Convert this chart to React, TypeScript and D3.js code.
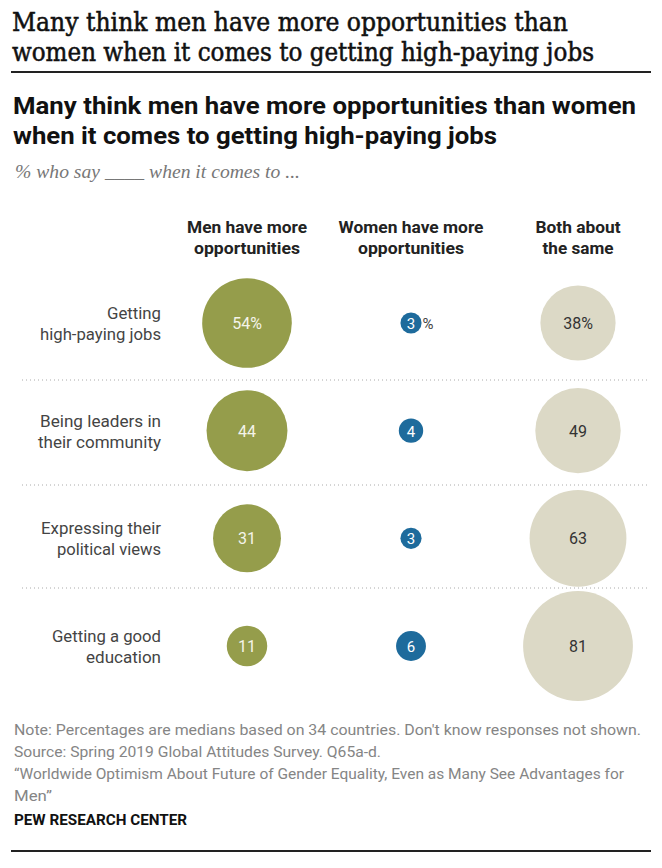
import React from "react";
import * as d3 from "d3";

const categories = [
  ["Getting", "high-paying jobs"],
  ["Being leaders in", "their community"],
  ["Expressing their", "political views"],
  ["Getting a good", "education"],
];
const seriesNames = [
  ["Men have more", "opportunities"],
  ["Women have more", "opportunities"],
  ["Both about", "the same"],
];
const menValues = [54, 44, 31, 11];
const womenValues = [3, 4, 3, 6];
const bothValues = [38, 49, 63, 81];

const colors = ["#959d4b", "#1e6b9c", "#dcd9c6"];
const textColors = ["#f4f4ea", "#ffffff", "#333333"];

const noteLines = [
  "Note: Percentages are medians based on 34 countries. Don't know responses not shown.",
  "Source: Spring 2019 Global Attitudes Survey. Q65a-d.",
  "\u201cWorldwide Optimism About Future of Gender Equality, Even as Many See Advantages for",
  "Men\u201d",
];
const noteWidths = [627, 367, 610, 38];
const headerWidths = [
  [120, 106],
  [145, 106],
  [85, 71],
];
const labelWidths = [
  [54, 121],
  [121, 123],
  [120, 104],
  [109, 75],
];

export default function App() {
  const W = 662;
  const H = 868;
  const series = [menValues, womenValues, bothValues];
  const xc = d3.scaleOrdinal<number, number>().domain([0, 1, 2]).range([247, 411, 578]);
  const y = d3.scaleLinear().domain([0, 3]).range([323, 646]);
  const r = d3.scaleSqrt().domain([0, 100]).range([0, 61]);
  const sepY = [380, 485, 588];
  const sans = "Roboto, 'Liberation Sans', Arial, sans-serif";
  const serif = "'DejaVu Serif', 'Liberation Serif', serif";
  const serif2 = "'Liberation Serif', 'DejaVu Serif', serif";

  return (
    <svg
      width={W}
      height={H}
      style={{ position: "absolute", left: 0, top: 0, background: "#fff" }}
    >
      {/* Page title */}
      <text x={12} y={31} fontFamily={serif} fontSize={26} fill="#111" stroke="#111" strokeWidth={0.55} textLength={556} lengthAdjust="spacingAndGlyphs">
        Many think men have more opportunities than
      </text>
      <text x={12} y={61} fontFamily={serif} fontSize={26} fill="#111" stroke="#111" strokeWidth={0.55} textLength={582} lengthAdjust="spacingAndGlyphs">
        women when it comes to getting high-paying jobs
      </text>
      <line x1={11} x2={651} y1={72} y2={72} stroke="#222" strokeWidth={2} />

      {/* Chart title */}
      <text x={13} y={114} fontFamily={sans} fontWeight={700} fontSize={23} fill="#111" textLength={623} lengthAdjust="spacingAndGlyphs">
        Many think men have more opportunities than women
      </text>
      <text x={13} y={144} fontFamily={sans} fontWeight={700} fontSize={23} fill="#111" textLength={484} lengthAdjust="spacingAndGlyphs">
        when it comes to getting high-paying jobs
      </text>
      <text x={15} y={178} fontFamily={serif2} fontStyle="italic" fontSize={19} fill="#777" textLength={285} lengthAdjust="spacingAndGlyphs">
        % who say ____ when it comes to ...
      </text>

      {/* Column headers */}
      {seriesNames.map((lines, i) => (
        <g key={i}>
          {lines.map((t, j) => (
            <text key={j} x={xc(i)} y={233 + j * 21} textAnchor="middle" fontFamily={sans} fontWeight={700} fontSize={17} fill="#222" textLength={headerWidths[i][j]} lengthAdjust="spacingAndGlyphs">
              {t}
            </text>
          ))}
        </g>
      ))}

      {/* separators */}
      {sepY.map((sy, i) => (
        <line key={i} x1={22} x2={648} y1={sy} y2={sy} stroke="#aaa" strokeWidth={1} strokeDasharray="1,3" />
      ))}

      {/* row labels */}
      {categories.map((lines, i) => (
        <g key={i}>
          {lines.map((t, j) => (
            <text key={j} x={161} y={y(i) - 4 + j * 21} textAnchor="end" fontFamily={sans} fontSize={16} fill="#444" textLength={labelWidths[i][j]} lengthAdjust="spacingAndGlyphs">
              {t}
            </text>
          ))}
        </g>
      ))}

      {/* bubbles */}
      {series.map((vals, si) => (
        <g key={si}>
          {vals.map((v, i) => (
            <g key={i}>
              <circle cx={xc(si)} cy={y(i)} r={r(v)} fill={colors[si]} />
              <text
                x={xc(si)}
                y={y(i) + 6}
                textAnchor="middle"
                fontFamily={sans}
                fontSize={si === 1 ? 15 : 16}
                fill={textColors[si]}
              >
                {i === 0 && si !== 1 ? `${v}%` : `${v}`}
              </text>
              {i === 0 && si === 1 && (
                <text x={xc(si) + r(v) + 1} y={y(i) + 6} fontFamily={sans} fontSize={15} fill="#444">
                  %
                </text>
              )}
            </g>
          ))}
        </g>
      ))}

      {/* notes */}
      {noteLines.map((t, i) => (
        <text key={i} x={14} y={735 + i * 22} fontFamily={sans} fontSize={15} fill="#858585" textLength={noteWidths[i]} lengthAdjust="spacingAndGlyphs">
          {t}
        </text>
      ))}
      <text x={14} y={825} fontFamily={sans} fontWeight={700} fontSize={15} fill="#111" textLength={173} lengthAdjust="spacingAndGlyphs">
        PEW RESEARCH CENTER
      </text>
      <line x1={11} x2={651} y1={851} y2={851} stroke="#222" strokeWidth={2} />
    </svg>
  );
}
